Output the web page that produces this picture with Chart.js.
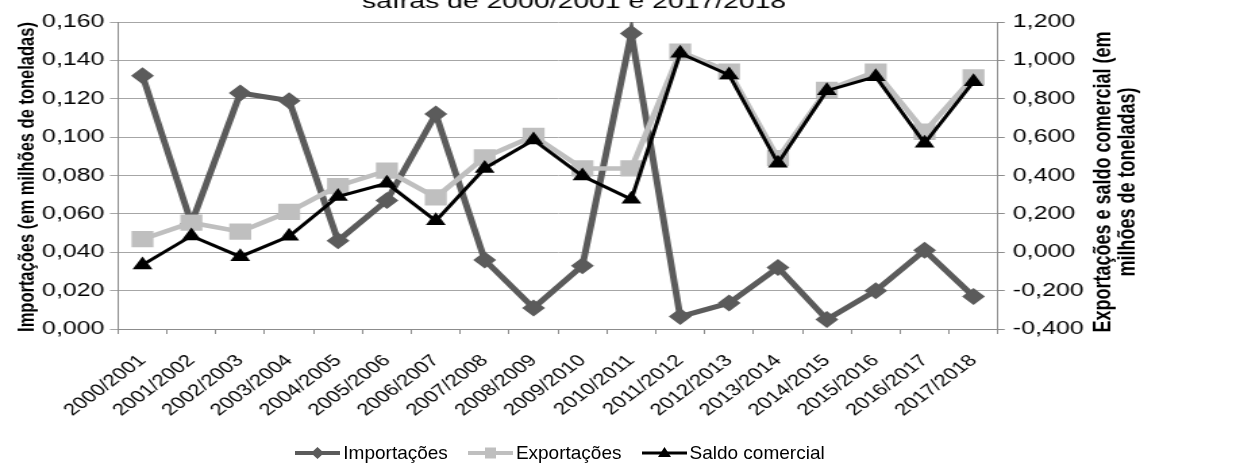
<!DOCTYPE html>
<html>
<head>
<meta charset="utf-8">
<script src="https://cdn.jsdelivr.net/npm/chart.js@4"></script>
<style>
  html, body { margin: 0; padding: 0; background: #fff; overflow: hidden; }
  #wrap { position: relative; width: 1240px; height: 468px; overflow: hidden; }
  /* the reference picture is a horizontally stretched chart, so draw narrow and stretch */
  #myChart { transform-origin: 0 0; transform: scaleX(1.35076); }
  #legend {
    position: absolute; left: 0; top: 441px; width: 1120px; height: 24px;
    display: flex; justify-content: center; align-items: center; gap: 20px;
    font-family: Arial, "Liberation Sans", sans-serif; font-size: 19px; color: #000;
  }
  #legend .item { display: flex; align-items: center; white-space: nowrap; }
  #legend canvas { margin-right: 3px; }
</style>
</head>
<body>
<div id="wrap">
  <canvas id="myChart" width="918" height="468"></canvas>
  <div id="legend"></div>
</div>
<script>
// ------------- data -------------
const safras = ['2000/2001', '2001/2002', '2002/2003', '2003/2004', '2004/2005', '2005/2006',
                '2006/2007', '2007/2008', '2008/2009', '2009/2010', '2010/2011', '2011/2012',
                '2012/2013', '2013/2014', '2014/2015', '2015/2016', '2016/2017', '2017/2018'];

// left axis (milhões de toneladas)
const importacoes = [0.132, 0.055, 0.123, 0.119, 0.046, 0.067, 0.112, 0.036, 0.011,
                     0.033, 0.154, 0.0065, 0.0135, 0.032, 0.005, 0.020, 0.041, 0.017];

// right axis (milhões de toneladas)
const exportacoes = [0.068, 0.154, 0.107, 0.211, 0.345, 0.425, 0.286, 0.495, 0.606,
                     0.437, 0.437, 1.045, 0.941, 0.490, 0.846, 0.941, 0.628, 0.912];
const saldoComercial = [-0.066, 0.085, -0.023, 0.083, 0.290, 0.359, 0.164, 0.437, 0.585,
                        0.397, 0.276, 1.037, 0.924, 0.464, 0.842, 0.915, 0.568, 0.889];

const tituloTopo = 'safras de 2000/2001 e 2017/2018';
const tituloEsq = 'Importações (em milhões de toneladas)';
const tituloDir = ['Exportações e saldo comercial (em', 'milhões de toneladas)'];

const FONT = 'Arial, "Liberation Sans", sans-serif';
const corImp = '#5b5b5b';
const corExp = '#bfbfbf';
const corSaldo = '#000000';

const fmt = v => Number(v).toFixed(3).replace('.', ',');

// titles drawn straight on the canvas
const textPlugin = {
    id: 'textos',
    afterDraw(chart) {
        const ctx = chart.ctx;
        ctx.save();
        ctx.fillStyle = '#000';
        ctx.textAlign = 'center';

        ctx.font = '21px ' + FONT;
        ctx.textBaseline = 'alphabetic';
        ctx.fillText(tituloTopo, 425, 8);

        ctx.textBaseline = 'middle';
        ctx.font = 'bold 16.5px ' + FONT;
        ctx.save();
        ctx.translate(20.7, 177);
        ctx.rotate(-Math.PI / 2);
        ctx.fillText(tituloEsq, 0, 0);
        ctx.restore();

        ctx.font = 'bold 18px ' + FONT;
        ctx.save();
        ctx.translate(817, 182);
        ctx.rotate(-Math.PI / 2);
        ctx.fillText(tituloDir[0], 0, 0);
        ctx.fillText(tituloDir[1], 0, 18);
        ctx.restore();

        ctx.restore();
    }
};

const data = {
    labels: safras,
    datasets: [
        {
            label: 'Importações',
            data: importacoes,
            yAxisID: 'y',
            borderColor: corImp,
            backgroundColor: corImp,
            borderWidth: 5,
            pointStyle: 'rectRot',
            pointRadius: 8.5,
            pointBorderWidth: 0,
            order: 3,
        },
        {
            label: 'Exportações',
            data: exportacoes,
            yAxisID: 'y1',
            borderColor: corExp,
            backgroundColor: corExp,
            borderWidth: 4.5,
            pointStyle: 'rect',
            pointRadius: 11.5,
            pointBorderWidth: 0,
            order: 2,
        },
        {
            label: 'Saldo comercial',
            data: saldoComercial,
            yAxisID: 'y1',
            borderColor: corSaldo,
            backgroundColor: corSaldo,
            borderWidth: 3,
            pointStyle: 'triangle',
            pointRadius: 8.5,
            pointBorderWidth: 0,
            order: 1,
        },
    ]
};

const ctx = document.getElementById('myChart').getContext('2d');

const myChart = new Chart(ctx, {
    type: 'line',
    data: data,
    plugins: [textPlugin],
    options: {
        responsive: false,
        animation: false,
        devicePixelRatio: 1,
        layout: {
            padding: { top: 22, left: 0, right: 0, bottom: 0 }
        },
        elements: {
            line: { tension: 0 },
        },
        plugins: {
            tooltip: { enabled: false },
            legend: { display: false }
        },
        scales: {
            x: {
                offset: true,
                grid: {
                    offset: true,
                    drawOnChartArea: false,
                    drawTicks: true,
                    tickLength: 5,
                    color: '#8c8c8c',
                },
                border: { color: '#8c8c8c' },
                ticks: {
                    color: '#000',
                    font: { family: FONT, size: 16.5 },
                    minRotation: 45,
                    maxRotation: 45,
                    padding: 17,
                    autoSkip: false,
                },
                afterFit(scale) { scale.height = 468 - 329; }
            },
            y: {
                position: 'left',
                min: 0,
                max: 0.16,
                ticks: {
                    stepSize: 0.02,
                    color: '#000',
                    font: { family: FONT, size: 18.5 },
                    padding: 4,
                    callback: fmt,
                },
                grid: { color: '#a6a6a6', tickLength: 6 },
                border: { color: '#8c8c8c' },
                afterFit(scale) { scale.width = 87.4; }
            },
            y1: {
                position: 'right',
                min: -0.4,
                max: 1.2,
                ticks: {
                    stepSize: 0.2,
                    color: '#000',
                    font: { family: FONT, size: 18.5 },
                    padding: 6,
                    callback: fmt,
                },
                grid: { drawOnChartArea: false, color: '#8c8c8c', tickLength: 5 },
                border: { color: '#8c8c8c' },
                afterFit(scale) { scale.width = 918 - 738.8; }
            }
        }
    }
});

// ------------- html legend (line with marker in the middle) -------------
function legendIcon(ds) {
    const c = document.createElement('canvas');
    c.width = 45; c.height = 20;
    const g = c.getContext('2d');
    g.strokeStyle = ds.borderColor;
    g.fillStyle = ds.backgroundColor;
    g.lineWidth = ds.borderWidth >= 4 ? 4 : 3;
    g.beginPath();
    g.moveTo(0, 10); g.lineTo(45, 10);
    g.stroke();
    g.beginPath();
    if (ds.pointStyle === 'rectRot') {
        g.moveTo(22.5, 4); g.lineTo(29, 10); g.lineTo(22.5, 16); g.lineTo(16, 10);
    } else if (ds.pointStyle === 'rect') {
        g.rect(17, 4.5, 11, 11);
    } else {
        g.moveTo(22.5, 4); g.lineTo(29, 14); g.lineTo(16, 14);
    }
    g.closePath();
    g.fill();
    return c;
}

const legendBox = document.getElementById('legend');
myChart.data.datasets.forEach(ds => {
    const item = document.createElement('div');
    item.className = 'item';
    item.appendChild(legendIcon(ds));
    const span = document.createElement('span');
    span.textContent = ds.label;
    item.appendChild(span);
    legendBox.appendChild(item);
});
</script>
</body>
</html>
